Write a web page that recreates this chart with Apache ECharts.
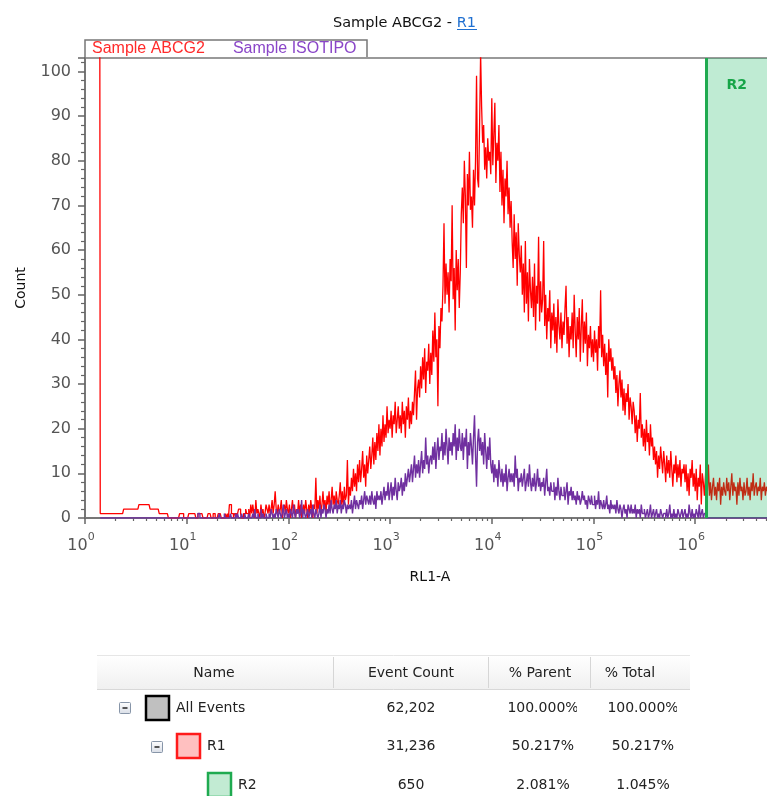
<!DOCTYPE html>
<html>
<head>
<meta charset="utf-8">
<script src="https://cdn.jsdelivr.net/npm/echarts@6/dist/echarts.min.js"></script>
<style>
html,body{margin:0;padding:0;background:#fff;}
#chart{width:767px;height:796px;}
</style>
</head>
<body>
<div id="chart"></div>
<script>
// ---- data: histogram bins on a log10 axis (each bin = 0.01 decade) ----
const binStart = 0.10;      // log10 of first bin left edge
const binWidth = 0.01;      // bin width in decades
const xMaxExp = 6.706;      // log10 of axis max
const gateStartExp = 6.113; // log10 of R2 gate start
const decadeLabels = [0, 1, 2, 3, 4, 5, 6];

// one row = 10 bins = 0.1 decade
const redCounts = [
  250,250,250,250,250,1,1,1,1,1,
  1,1,1,1,1,1,1,1,1,1,
  1,1,1,1,1,1,1,1,2,2,
  2,2,2,2,2,2,2,2,2,2,
  2,2,2,3,3,3,3,3,3,3,
  3,3,3,3,2,2,2,2,2,2,
  2,2,2,1,1,1,1,1,1,1,
  1,1,0,0,0,0,0,0,0,0,
  0,0,0,1,1,1,1,0,0,0,
  0,0,1,1,1,1,1,1,1,0,
  0,1,1,1,1,1,0,0,0,0,
  0,1,1,1,0,0,1,1,0,0,
  0,1,1,1,0,0,0,0,1,0,
  1,0,3,3,1,1,0,1,1,0,
  1,2,2,1,0,0,1,1,2,1,
  1,2,0,3,1,3,1,0,4,1,
  2,1,0,3,1,2,0,1,3,2,
  1,3,1,2,4,1,3,6,2,1,
  3,1,2,4,0,2,3,1,4,2,
  1,3,0,2,4,1,3,0,2,1,
  4,1,3,0,2,3,1,4,2,0,
  3,1,4,2,0,3,2,9,1,4,
  2,5,1,3,6,2,4,1,5,3,
  6,2,4,7,3,5,2,6,4,3,
  5,8,3,6,2,7,4,5,13,3,
  7,5,9,6,11,7,10,6,12,8,
  13,8,11,15,9,12,7,14,10,13,
  16,11,14,18,12,17,13,19,15,21,
  14,20,16,23,17,21,18,25,19,22,
  20,24,18,23,21,26,19,22,25,20,
  23,19,26,21,24,18,25,22,27,20,
  24,21,26,23,28,33,22,29,31,27,
  34,29,36,31,38,28,35,33,39,30,
  37,32,42,35,46,36,40,25,43,38,
  47,44,52,66,48,57,50,55,46,58,
  53,70,49,56,42,60,51,58,47,55,
  68,74,66,80,72,56,77,70,82,69,
  72,65,78,70,80,99,76,74,88,104,
  92,84,88,78,83,76,85,80,82,77,
  94,79,86,93,75,84,80,88,73,82,
  70,78,66,76,72,80,68,74,65,71,
  62,56,68,58,64,52,66,59,55,61,
  50,57,46,62,48,55,44,58,51,47,
  54,45,57,42,52,48,63,44,53,46,
  49,62,43,50,40,47,44,51,38,46,
  42,48,39,45,37,49,43,40,46,38,
  44,41,47,52,39,45,36,43,40,46,
  38,50,42,36,45,40,47,35,43,49,
  37,44,39,46,34,41,38,43,36,40,
  35,42,37,40,33,43,38,51,36,41,
  34,39,32,37,27,40,35,38,33,36,
  31,34,28,32,25,30,33,27,31,24,
  29,23,28,26,30,22,27,25,21,26,
  24,19,23,17,22,20,28,18,21,16,
  20,15,22,17,19,14,21,16,18,13,
  16,12,15,9,14,11,16,13,10,15,
  12,8,14,10,13,9,15,11,7,12,
  10,14,8,12,9,13,7,11,10,12,
  8,12,6,10,5,11,9,13,7,10,
  6,11,4,9,7,12,3,10,8,5,
  9,14,6,12,5,8,4,7,9,5,
  7,4,8,6,9,3,7,5,8,6,
  5,9,6,8,4,7,10,5,8,6,
  7,3,8,5,9,6,7,4,8,5,
  6,9,5,7,4,8,6,10,5,7,
  8,5,7,6,9,4,7,6,8,5,
  7,6
];

const purpleCounts = [
  null,null,null,null,null,0,0,0,0,0,
  0,0,0,0,0,0,0,0,0,0,
  0,0,0,0,0,0,0,0,0,0,
  0,0,0,0,0,0,0,0,0,0,
  0,0,0,0,0,0,0,0,0,0,
  0,0,0,0,0,0,0,0,0,0,
  0,0,0,0,0,0,0,0,0,0,
  0,0,0,0,0,0,0,0,0,0,
  0,0,0,0,0,0,0,0,0,0,
  0,0,0,0,0,0,0,0,0,0,
  0,1,1,0,0,0,0,0,0,0,
  0,0,0,0,0,0,0,0,0,0,
  0,0,1,0,0,0,0,1,0,0,
  0,0,0,1,0,0,0,0,1,0,
  1,0,0,0,1,0,0,1,0,0,
  0,1,0,0,0,1,0,2,0,0,
  1,0,0,2,0,1,0,0,1,0,
  0,1,0,2,1,0,1,0,2,1,
  0,2,1,0,1,3,0,1,2,0,
  1,0,2,1,0,3,1,0,2,1,
  2,0,1,4,0,2,1,0,1,2,
  0,1,2,0,3,1,0,2,1,0,
  1,3,0,2,1,3,2,0,2,1,
  3,1,4,2,1,3,2,4,1,3,
  2,4,1,3,2,4,3,1,3,2,
  3,2,4,1,3,5,2,4,3,2,
  4,3,5,2,4,6,3,5,4,3,
  5,3,6,4,3,5,2,6,4,5,
  4,6,3,5,7,4,6,5,8,4,
  6,8,4,7,5,9,6,4,8,6,
  7,9,5,8,6,10,7,9,11,8,
  10,12,8,11,14,9,12,10,13,9,
  12,15,10,13,11,18,12,14,10,13,
  14,12,16,13,17,11,15,18,13,16,
  15,19,13,17,14,20,16,12,18,15,
  17,14,19,16,21,13,18,15,20,16,
  15,19,13,18,16,20,11,17,14,19,
  16,12,18,23,14,7,17,20,15,18,
  14,17,12,19,15,11,16,13,18,12,
  10,13,8,12,9,11,7,13,10,8,
  11,7,10,8,12,6,9,11,8,10,
  8,10,7,14,9,11,6,9,8,10,
  7,9,11,6,8,10,7,12,8,6,
  9,7,10,6,8,11,7,9,6,8,
  7,9,5,8,11,6,7,5,8,6,
  6,8,4,7,5,9,6,4,7,5,
  5,7,4,6,8,3,6,5,7,4,
  6,4,5,3,6,4,5,3,4,6,
  4,5,3,4,2,5,4,3,5,3,
  3,5,2,4,3,6,2,4,3,2,
  4,2,3,5,2,3,1,4,2,3,
  2,3,1,4,2,1,3,2,0,2,
  3,1,2,0,3,2,1,3,1,2,
  1,3,0,2,1,2,0,3,1,1,
  2,0,1,2,0,1,3,0,1,2,
  0,1,2,0,1,0,2,1,0,1,
  1,0,2,0,1,3,0,1,0,2,
  0,1,0,2,1,0,1,2,0,1,
  2,0,1,0,3,1,0,2,0,1,
  0,2,1,0,3,0,1,2,0,1,
  1,0,0,0,0,0,0,0,0,0,
  0,0,0,0,0,0,0,0,0,0,
  0,0,0,0,0,0,0,0,0,0,
  0,0,0,0,0,0,0,0,0,0,
  0,0,0,0,0,0,0,0,0,0,
  0,0,0,0,0,0,0,0,0,0,
  0,0
];

const seriesNames = ['Sample ABCG2', 'Sample ISOTIPO'];
const tableHeader = ['Name', 'Event Count', '% Parent', '% Total'];
const tableNames = ['All Events', 'R1', 'R2'];
const tableCounts = ['62,202', '31,236', '650'];
const tableParent = ['100.000%', '50.217%', '2.081%'];
const tableTotal = ['100.000%', '50.217%', '1.045%'];

// ---- build ----
function toSteps(counts) {
  const pts = counts.map((v, i) => [binStart + i * binWidth, v]);
  pts.push([binStart + counts.length * binWidth, counts[counts.length - 1]]);
  return pts;
}
const minorTicks = [];
for (let n = 0; n <= 6; n++) {
  for (let k = 2; k <= 9; k++) {
    const e = n + Math.log10(k);
    if (e < xMaxExp) minorTicks.push(e);
  }
}

const FONT = 'DejaVu Sans';
const chart = echarts.init(document.getElementById('chart'));

const rowY = [708, 746, 785];
const graphics = [];
// title underline
graphics.push({type:'line', shape:{x1:457, y1:29.5, x2:477, y2:29.5}, style:{stroke:'#1f6fd0', lineWidth:1}});
// legend box
graphics.push({type:'rect', shape:{x:85, y:40, width:282, height:18}, style:{fill:'none', stroke:'#777', lineWidth:1.5}});
// top border of plot
graphics.push({type:'line', shape:{x1:85, y1:58, x2:767, y2:58}, style:{stroke:'#999', lineWidth:2}});
// table header
graphics.push({type:'rect', shape:{x:97, y:655, width:593, height:34},
  style:{fill:new echarts.graphic.LinearGradient(0,0,0,1,[{offset:0,color:'#ffffff'},{offset:1,color:'#f0f0f0'}])}});
graphics.push({type:'line', shape:{x1:97, y1:655.5, x2:690, y2:655.5}, style:{stroke:'#e6e6e6', lineWidth:1}});
graphics.push({type:'line', shape:{x1:97, y1:689.5, x2:690, y2:689.5}, style:{stroke:'#d8d8d8', lineWidth:1}});
[333, 488, 590].forEach(x => graphics.push({type:'line', shape:{x1:x+0.5, y1:657, x2:x+0.5, y2:688}, style:{stroke:'#d6d6d6', lineWidth:1}}));
const headerX = [214, 411, 540, 630];
tableHeader.forEach((t, i) => graphics.push({type:'text', style:{text:t, x:headerX[i], y:673, align:'center', verticalAlign:'middle', font:'14px "' + FONT + '"', fill:'#222'}}));
// minus icons
[[119, 702], [151, 741]].forEach(p => {
  graphics.push({type:'rect', shape:{x:p[0]+0.5, y:p[1]+0.5, width:11, height:11, r:1},
    style:{fill:new echarts.graphic.LinearGradient(0,0,0,1,[{offset:0,color:'#ffffff'},{offset:1,color:'#d8dde6'}]), stroke:'#8795a8', lineWidth:1}});
  graphics.push({type:'line', shape:{x1:p[0]+3.5, y1:p[1]+6, x2:p[0]+8.5, y2:p[1]+6}, style:{stroke:'#222', lineWidth:1.5}});
});
// swatches
const swatches = [
  {x:146, fill:'#c0c0c0', stroke:'#000'},
  {x:177, fill:'#ffc0c0', stroke:'#ff1a1a'},
  {x:208, fill:'#c2ebd3', stroke:'#1faa50'}
];
swatches.forEach((s, i) => graphics.push({type:'rect', shape:{x:s.x, y:rowY[i]-12, width:23, height:24}, style:{fill:s.fill, stroke:s.stroke, lineWidth:2.5}}));
tableNames.forEach((t, i) => graphics.push({type:'text', style:{text:t, x:swatches[i].x + 30, y:rowY[i], align:'left', verticalAlign:'middle', font:'14px "' + FONT + '"', fill:'#222'}}));
tableCounts.forEach((t, i) => graphics.push({type:'text', style:{text:t, x:411, y:rowY[i], align:'center', verticalAlign:'middle', font:'14px "' + FONT + '"', fill:'#222'}}));
tableParent.forEach((t, i) => graphics.push({type:'text', style:{text:t, x:543, y:rowY[i], align:'center', verticalAlign:'middle', font:'14px "' + FONT + '"', fill:'#222'}}));
tableTotal.forEach((t, i) => graphics.push({type:'text', style:{text:t, x:643, y:rowY[i], align:'center', verticalAlign:'middle', font:'14px "' + FONT + '"', fill:'#222'}}));
// cell clipping of the over-long first-row percentages (as in the reference)
graphics.push({type:'rect', z: 100, shape:{x:577, y:699, width:12, height:18}, style:{fill:'#fff'}});
graphics.push({type:'rect', z: 100, shape:{x:677, y:699, width:13, height:18}, style:{fill:'#fff'}});

const option = {
  animation: false,
  backgroundColor: '#fff',
  title: {
    text: '{a|Sample ABCG2 - }{b|R1}',
    left: 328, top: 11,
    textStyle: {fontWeight: 'normal', rich: {
      a: {fontFamily: FONT, fontSize: 14.5, fontWeight: 'normal', color: '#111'},
      b: {fontFamily: FONT, fontSize: 14.5, fontWeight: 'normal', color: '#1f6fd0'}
    }}
  },
  legend: {
    left: 87, top: 40, padding: 0,
    itemWidth: 0, itemHeight: 0, itemGap: 23,
    icon: 'rect',
    selectedMode: false,
    textStyle: {fontFamily: 'Liberation Sans', fontSize: 16, lineHeight: 18},
    data: [
      {name: seriesNames[0], textStyle: {color: '#ff2a2a'}},
      {name: seriesNames[1], textStyle: {color: '#8a46c8'}}
    ]
  },
  grid: {left: 85, right: 0, top: 58, bottom: 278, containLabel: false},
  xAxis: [{
    type: 'value', min: 0, max: xMaxExp, interval: 1,
    name: 'RL1-A', nameLocation: 'middle', nameGap: 52,
    nameTextStyle: {fontFamily: FONT, fontSize: 14, color: '#111', padding: [0, 0, 0, 8]},
    axisLine: {show: true, lineStyle: {color: '#777', width: 2}},
    axisTick: {show: true, length: 6, lineStyle: {color: '#666', width: 1.5}},
    splitLine: {show: false},
    axisLabel: {
      showMaxLabel: false, margin: 14, padding: [0, 8, 0, 0],
      formatter: v => decadeLabels.indexOf(v) >= 0 ? '{b|10}{s|' + v + '}' : '',
      rich: {
        b: {fontFamily: FONT, fontSize: 16, color: '#555', verticalAlign: 'bottom', lineHeight: 22},
        s: {fontFamily: FONT, fontSize: 11, color: '#555', verticalAlign: 'top', lineHeight: 12}
      }
    }
  }, {
    type: 'value', min: 0, max: xMaxExp, position: 'bottom',
    axisLine: {show: false},
    axisTick: {show: true, length: 3, customValues: minorTicks, lineStyle: {color: '#666', width: 1.2}},
    axisLabel: {show: false},
    splitLine: {show: false}
  }],
  yAxis: {
    type: 'value', min: 0, max: 103, interval: 10,
    name: 'Count', nameLocation: 'middle', nameGap: 57, nameRotate: 90,
    nameTextStyle: {fontFamily: FONT, fontSize: 14, color: '#111'},
    axisLine: {show: true, lineStyle: {color: '#777', width: 2}},
    axisTick: {show: true, length: 7, lineStyle: {color: '#666', width: 1.5}},
    minorTick: {show: true, splitNumber: 5, length: 4, lineStyle: {color: '#666', width: 1.2}},
    splitLine: {show: false},
    axisLabel: {
      showMaxLabel: false, margin: 14,
      fontFamily: FONT, fontSize: 16, color: '#555',
      formatter: v => (v % 10 === 0 ? String(v) : '')
    }
  },
  series: [{
    name: seriesNames[0], type: 'line', step: 'end', symbol: 'none', z: 2,
    clip: true, silent: true,
    lineStyle: {color: '#ff0000', width: 1.3},
    itemStyle: {color: '#ff0000'},
    data: toSteps(redCounts)
  }, {
    name: seriesNames[1], type: 'line', step: 'end', symbol: 'none', z: 3,
    clip: true, silent: true,
    lineStyle: {color: '#7030a0', width: 1.4},
    itemStyle: {color: '#7030a0'},
    data: toSteps(purpleCounts)
  }, {
    name: 'R2', type: 'line', data: [], z: 5, silent: true,
    markArea: {
      z: 10, silent: true,
      itemStyle: {color: 'rgba(0,176,80,0.25)'},
      label: {show: true, position: 'insideTop', distance: 20, formatter: 'R2',
        color: '#17a548', fontWeight: 'bold', fontSize: 14, fontFamily: FONT},
      data: [[{xAxis: gateStartExp}, {xAxis: xMaxExp}]]
    },
    markLine: {
      z: 11, silent: true, symbol: 'none',
      label: {show: false},
      lineStyle: {color: '#1faa50', width: 3, type: 'solid'},
      data: [{xAxis: gateStartExp}]
    }
  }],
  graphic: graphics
};
chart.setOption(option);
</script>
</body>
</html>
